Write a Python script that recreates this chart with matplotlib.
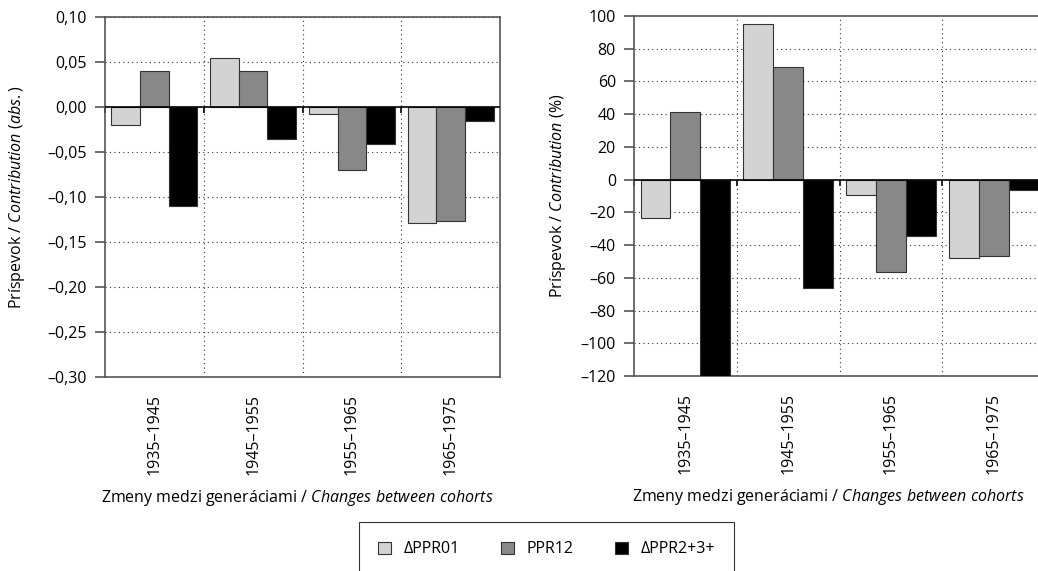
import matplotlib
matplotlib.use("Agg")
import matplotlib.pyplot as plt
import numpy as np
from matplotlib.ticker import FuncFormatter, FixedLocator

plt.rcParams['font.family'] = ['Open Sans', 'DejaVu Sans']
plt.rcParams['mathtext.fontset'] = 'custom'
plt.rcParams['mathtext.rm'] = 'Open Sans'
plt.rcParams['mathtext.it'] = 'Open Sans:italic'
plt.rcParams['font.size'] = 11.5

categories = ['1935–1945', '1945–1955', '1955–1965', '1965–1975']
series = ['ΔPPR01', 'PPR12', 'ΔPPR2+3+']
colors = ['#d3d3d3', '#888888', '#000000']

abs_ppr01 = [-0.020, 0.054, -0.008, -0.129]
abs_ppr12 = [0.040, 0.040, -0.070, -0.127]
abs_ppr23 = [-0.110, -0.036, -0.041, -0.015]

pct_ppr01 = [-23.3, 95.1, -9.2, -47.6]
pct_ppr12 = [41.2, 69.0, -56.7, -46.7]
pct_ppr23 = [-125.0, -66.5, -34.7, -6.3]

W, H = 1038, 571
fig = plt.figure(figsize=(W / 100, H / 100), dpi=100)

def rect(l, r, t, b):
    return [l / W, 1 - b / H, (r - l) / W, (b - t) / H]

ax1 = fig.add_axes(rect(105, 500, 17, 377))
ax2 = fig.add_axes(rect(634, 1045, 16, 376))

def fmt_abs(v, pos):
    s = f"{abs(v):.2f}".replace('.', ',')
    return ('–' + s) if v < -1e-9 else s

def fmt_pct(v, pos):
    s = f"{abs(v):.0f}"
    return ('–' + s) if v < -1e-9 else s

def draw(ax, data, ylim, step, fmt, ylabel, ylab_x, xlab_x):
    x = np.arange(len(categories))
    bw = 0.29
    for i, (vals, c) in enumerate(zip(data, colors)):
        ax.bar(x + (i - 1) * bw, vals, width=bw, color=c, edgecolor='#333333',
               linewidth=0.8, label=series[i], zorder=3)
    ax.set_xlim(-0.5, len(categories) - 0.5)
    ax.set_ylim(*ylim)
    ticks = np.arange(ylim[0], ylim[1] + step / 2, step)
    ax.yaxis.set_major_locator(FixedLocator(ticks))
    ax.yaxis.set_major_formatter(FuncFormatter(fmt))
    ax.tick_params(axis='y', direction='out', length=7, width=1.2, color='#555555', pad=6)
    ax.set_xticks(x)
    ax.set_xticklabels(categories, rotation=90)
    ax.tick_params(axis='x', length=0, pad=12)
    for yv in ticks:
        if ylim[0] < yv < ylim[1] and abs(yv) > 1e-9:
            ax.axhline(yv, color='#333333', linestyle=(0, (1, 3)), linewidth=0.8, zorder=1)
    for xv in x[:-1] + 0.5:
        ax.axvline(xv, color='#333333', linestyle=(0, (1, 3)), linewidth=0.8, zorder=1)
    ax.axhline(0, color='black', linewidth=1.2, zorder=4)
    for sp in ax.spines.values():
        sp.set_color('#555555')
        sp.set_linewidth(1.2)
    frac = (0 - ylim[0]) / (ylim[1] - ylim[0])
    sec = ax.secondary_xaxis(frac)
    sec.set_xticks(list(x[:-1] + 0.5) + [-0.5])
    sec.tick_params(axis='x', direction='out', length=4, width=1.2, color='black',
                    labelbottom=False, labeltop=False)
    sec.spines['top'].set_visible(False)
    sec.spines['bottom'].set_visible(False)
    sec.xaxis.set_ticks_position('bottom')
    sec.set_xticklabels([])
    ax.set_ylabel(ylabel)
    ax.yaxis.set_label_coords(ylab_x, 0.5)
    ax.set_xlabel(r'Zmeny medzi generáciami / $\mathit{Changes\ between\ cohorts}$')
    ax.xaxis.set_label_coords(xlab_x, -0.335)
    ax.xaxis.label.set_va('center')
    ax.yaxis.label.set_va('center')

draw(ax1, [abs_ppr01, abs_ppr12, abs_ppr23], (-0.30, 0.10), 0.05, fmt_abs,
     r'Príspevok / $\mathit{Contribution\ (abs.)}$', -0.223, 0.487)
draw(ax2, [pct_ppr01, pct_ppr12, pct_ppr23], (-120, 100), 20, fmt_pct,
     r'Príspevok / $\mathit{Contribution\ (\%)}$', -0.185, 0.472)

handles, labels = ax1.get_legend_handles_labels()
leg = fig.legend(handles, labels, loc='upper center', ncol=3,
                 bbox_to_anchor=(546.5 / W, 1 - 522 / H), frameon=True, fancybox=False,
                 edgecolor='black', borderpad=1.2, handlelength=0.8, handleheight=0.8,
                 columnspacing=2.6, handletextpad=0.8, borderaxespad=0)
leg.get_frame().set_linewidth(0.8)

fig.savefig('out.png', dpi=100)
